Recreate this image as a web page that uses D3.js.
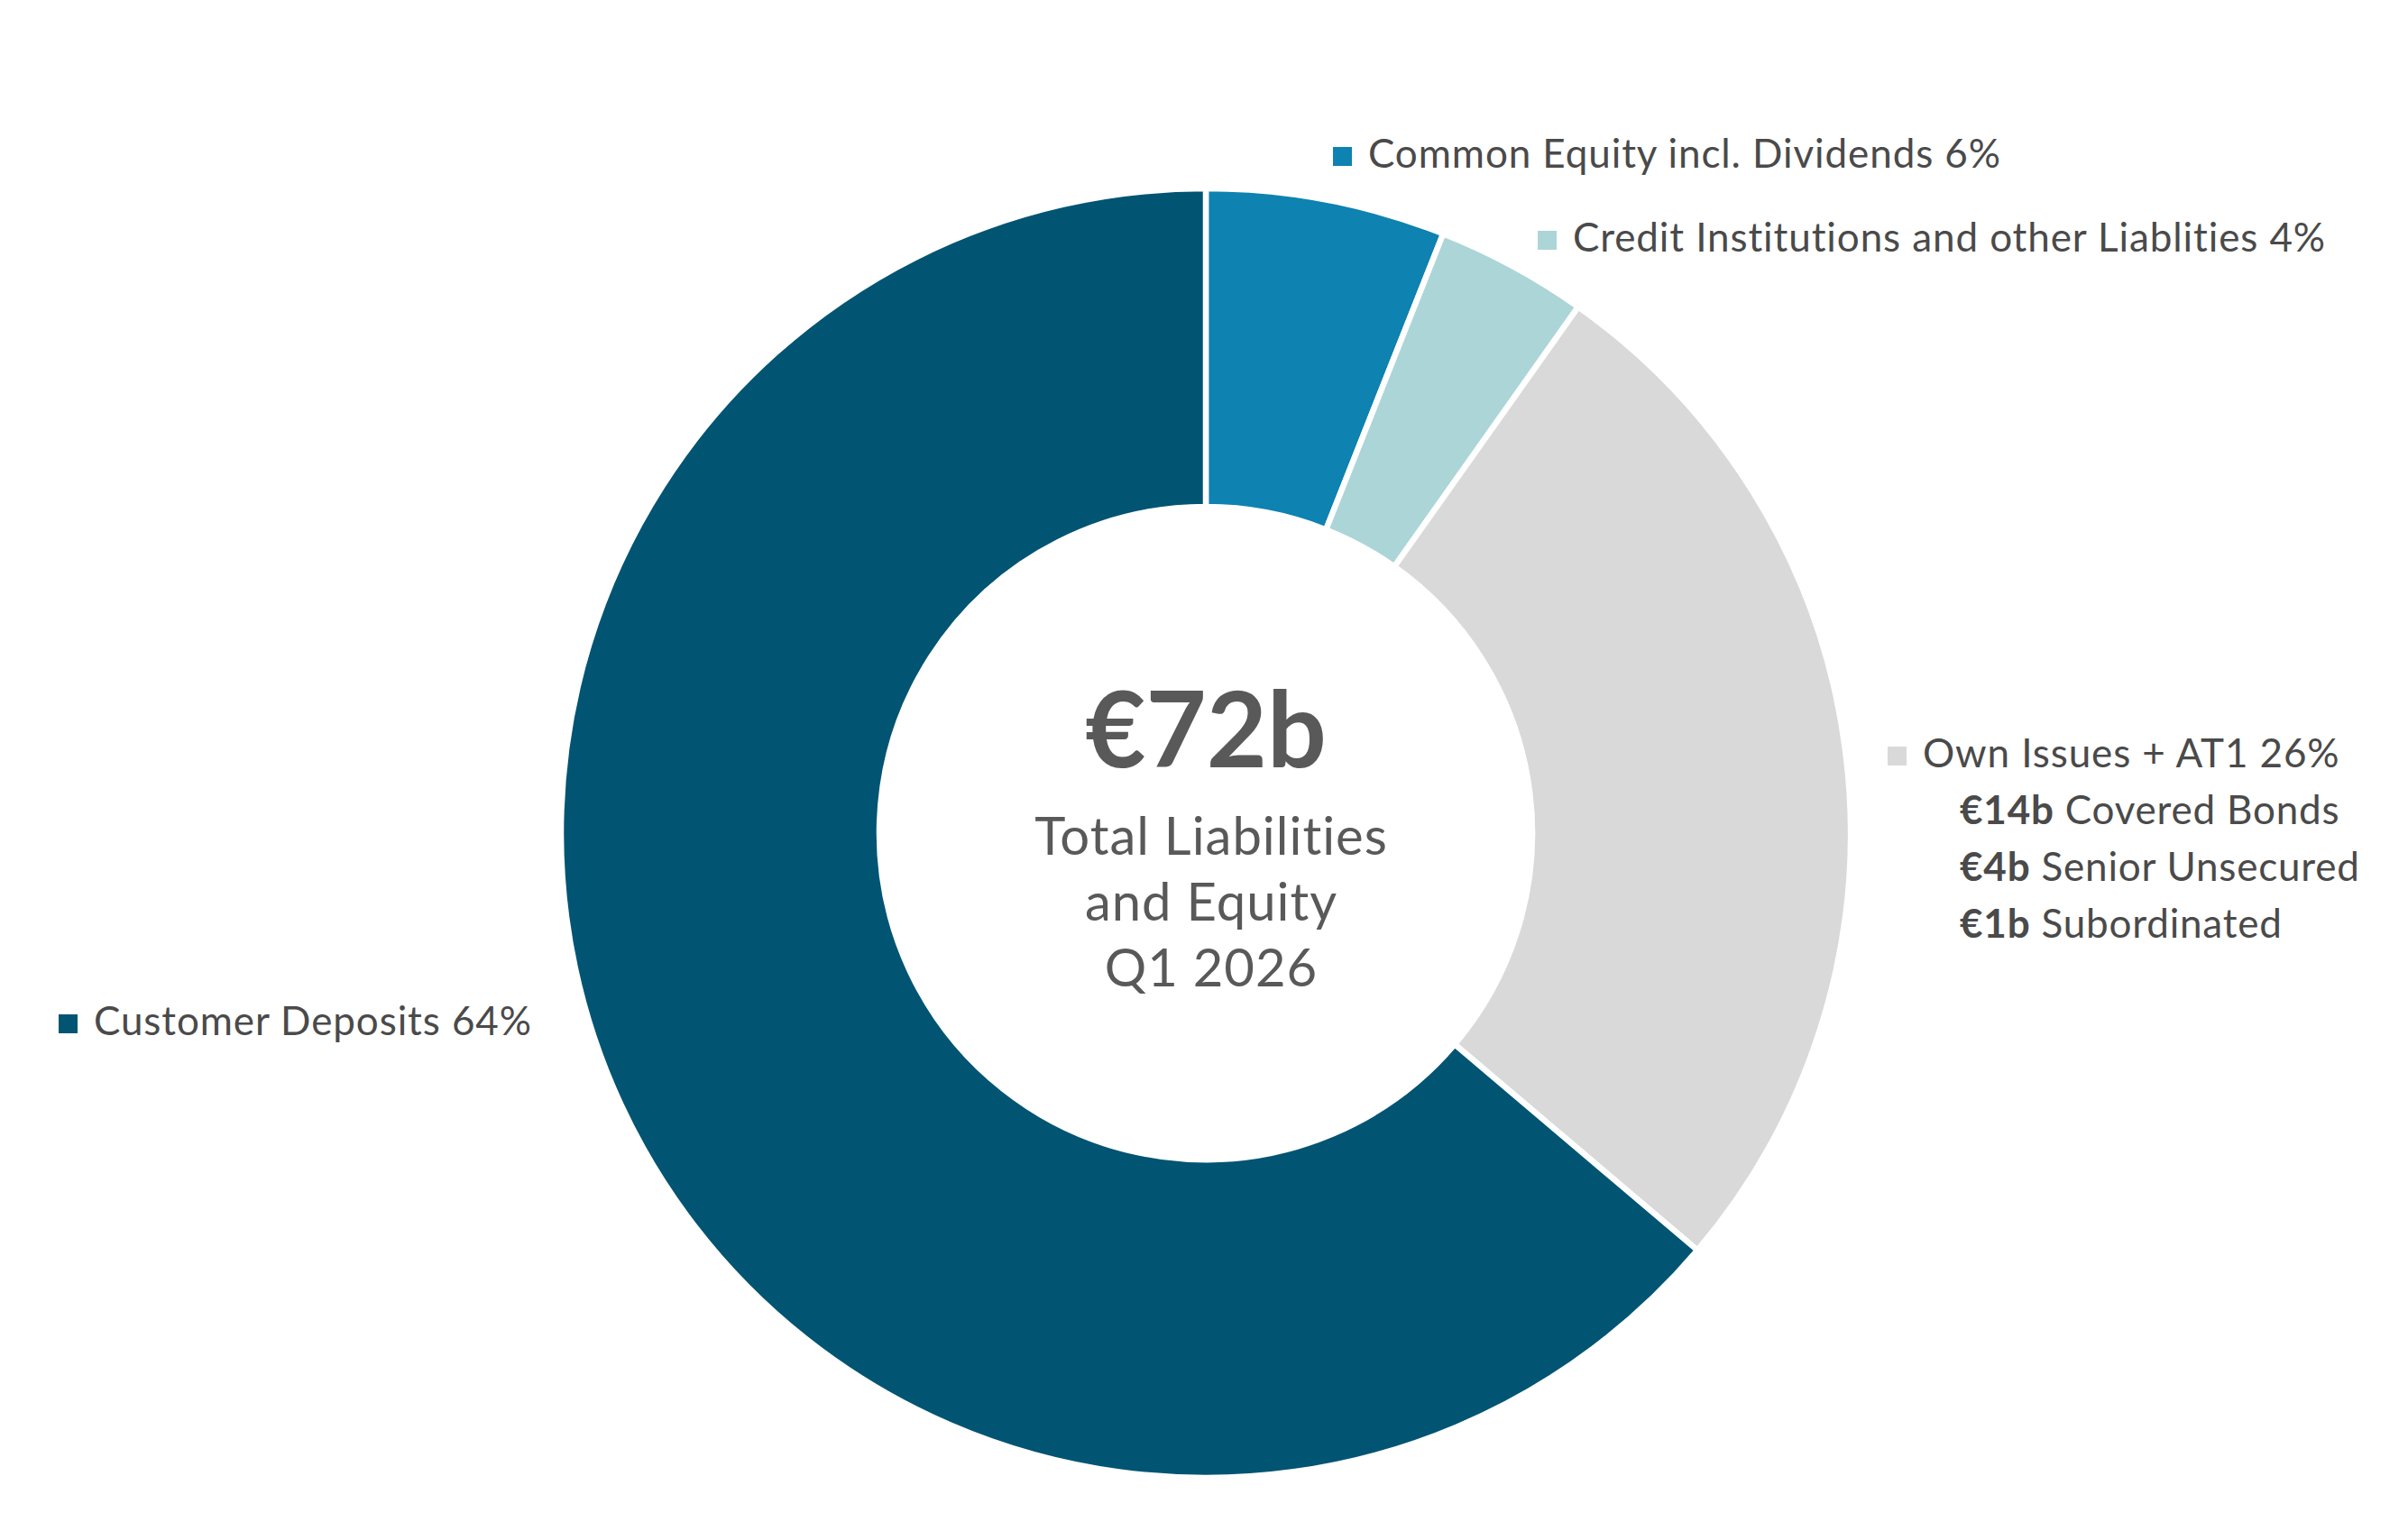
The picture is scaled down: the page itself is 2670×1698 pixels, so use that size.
<!DOCTYPE html>
<html>
<head>
<meta charset="utf-8">
<script src="https://cdn.jsdelivr.net/npm/d3@7"></script>
<style>
  body { margin: 0; background: #fff; }
  svg text { font-family: Lato, "Noto Sans", sans-serif; }
</style>
</head>
<body>
<div id="chart"></div>
<script>
// slices, clockwise from 12 o'clock (share of total, %)
var categories = ["Common Equity incl. Dividends", "Credit Institutions and other Liablities", "Own Issues + AT1", "Customer Deposits"];
var shares = [6.0, 3.8, 26.4, 63.8];
var shareLabels = ["6%", "4%", "26%", "64%"];
var colors = ["#0e82b0", "#acd5d8", "#d9d9d9", "#025473"];

// breakdown of own issues
var subAmounts = ["€14b", "€4b", "€1b"];
var subNames = ["Covered Bonds", "Senior Unsecured", "Subordinated"];

var centerLines = ["Total Liabilities", "and Equity", "Q1 2026"];
var total = "€72b";

document.addEventListener("DOMContentLoaded", function() {
    var w = 2670, h = 1698;
    var cx = 1337, cy = 924;
    var outerR = 715, innerR = 362;

    var svg = d3.select("#chart")
                .append("svg")
                .attr("width", w)
                .attr("height", h);

    var data = categories.map(function(c, i) {
        return { name: c, value: shares[i], label: shareLabels[i], color: colors[i] };
    });

    var pie = d3.pie().sort(null).value(function(d) { return d.value; });
    var arc = d3.arc().innerRadius(innerR).outerRadius(outerR);

    var g = svg.append("g").attr("transform", "translate(" + cx + "," + cy + ")");
    g.selectAll("path")
     .data(pie(data))
     .enter()
     .append("path")
     .attr("d", arc)
     .attr("fill", function(d) { return d.data.color; })
     .attr("stroke", "#fff")
     .attr("stroke-width", 6.5)
     .attr("stroke-linejoin", "miter");

    // centre text
    g.append("text")
     .attr("text-anchor", "middle")
     .attr("y", -73)
     .attr("font-size", 116)
     .attr("font-weight", 700)
     .attr("fill", "#595959")
     .text(total);

    g.selectAll(".cl")
     .data(centerLines)
     .enter()
     .append("text")
     .attr("class", "cl")
     .attr("text-anchor", "middle")
     .attr("x", 6)
     .attr("y", function(d, i) { return 24 + i * 73; })
     .attr("font-size", 58)
     .attr("letter-spacing", 1)
     .attr("fill", "#595959")
     .text(function(d) { return d; });

    // legend labels next to slices
    var legendPos = [
        { x: 1478, y: 186 },
        { x: 1705, y: 279 },
        { x: 2093, y: 851 },
        { x: 65,   y: 1148 }
    ];
    var lg = svg.selectAll(".lg")
                .data(data)
                .enter()
                .append("g")
                .attr("class", "lg")
                .attr("transform", function(d, i) {
                    return "translate(" + legendPos[i].x + "," + legendPos[i].y + ")";
                });
    lg.append("rect")
      .attr("x", 0)
      .attr("y", -23)
      .attr("width", 21)
      .attr("height", 21)
      .attr("fill", function(d) { return d.color; });
    lg.append("text")
      .attr("x", 39)
      .attr("font-size", 44)
      .attr("letter-spacing", 0.9)
      .attr("fill", "#4a4a4a")
      .text(function(d) { return d.name + " " + d.label; });

    // own issues breakdown
    var sub = svg.selectAll(".sub")
                 .data(subAmounts)
                 .enter()
                 .append("text")
                 .attr("class", "sub")
                 .attr("x", 2173)
                 .attr("y", function(d, i) { return 914 + i * 63; })
                 .attr("font-size", 44)
                 .attr("letter-spacing", 0.8)
                 .attr("fill", "#4a4a4a");
    sub.append("tspan").attr("font-weight", 700).text(function(d) { return d; });
    sub.append("tspan").text(function(d, i) { return " " + subNames[i]; });
});
</script>
</body>
</html>
